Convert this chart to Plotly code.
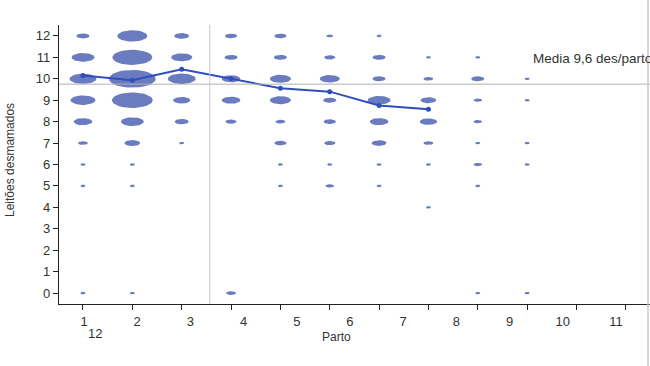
import numpy as np
import plotly.graph_objects as go

# ---- data ----
parto = [1, 2, 3, 4, 5, 6, 7, 8, 9, 10]
# counts of sows per (parto, weaned piglets)
counts = {
    1: {12: 7, 11: 21, 10: 29, 9: 25, 8: 14, 7: 4, 6: 1, 5: 1, 0: 1},
    2: {12: 36, 11: 64, 10: 88, 9: 67, 8: 21, 7: 10, 6: 1, 5: 1, 0: 1},
    3: {12: 9, 11: 18, 10: 31, 9: 12, 8: 8, 7: 1},
    4: {12: 6, 11: 7, 10: 14, 9: 14, 8: 5, 0: 4},
    5: {12: 6, 11: 7, 10: 18, 9: 18, 8: 4, 7: 6, 6: 1, 5: 1},
    6: {12: 2, 11: 5, 10: 16, 9: 7, 8: 6, 7: 5, 6: 1, 5: 3},
    7: {12: 1, 11: 7, 10: 7, 9: 21, 8: 14, 7: 9, 6: 1, 5: 1},
    8: {11: 1, 10: 4, 9: 10, 8: 12, 7: 4, 6: 1, 4: 1},
    9: {11: 1, 10: 7, 9: 3, 8: 3, 7: 1, 6: 3, 5: 1, 0: 1},
    10: {10: 1, 9: 1, 7: 1, 6: 1, 0: 1},
}
bubble_x, bubble_y, bubble_n = [], [], []
for p in parto:
    for k, n in counts[p].items():
        bubble_x.append(p)
        bubble_y.append(k)
        bubble_n.append(n)

mean_x = [1, 2, 3, 4, 5, 6, 7, 8]
mean_y = [10.15, 9.93, 10.44, 10.01, 9.56, 9.40, 8.75, 8.58]

x_tickvals = [1, 2, 3, 4, 5, 6, 7, 8, 9, 10, 11, 12]
x_labels = ["1", "2", "3", "4", "5", "6", "7", "8", "9", "10", "11", "12"]
y_ticks = list(range(0, 13))

media_value = 9.75
media_text = "Media 9,6 des/parto"
vline_x = 3.57

# ---- styling constants ----
XR = [0.514, 12.49]
YR = [-0.51, 12.51]
PLOT_W = 591
PLOT_H = 279
px_per_x = PLOT_W / (XR[1] - XR[0])
px_per_y = PLOT_H / (YR[1] - YR[0])

# ellipse polygons (size from counts)
ex, ey = [], []
t = np.linspace(0, 2 * np.pi, 40)
for x, y, n in zip(bubble_x, bubble_y, bubble_n):
    w = 5.0 * np.sqrt(n)
    h = max(w / 2.65, 2.6)
    rx = w / 2 / px_per_x
    ry = h / 2 / px_per_y
    ex += list(x + rx * np.cos(t)) + [None]
    ey += list(y + ry * np.sin(t)) + [None]

fig = go.Figure()
fig.add_trace(go.Scatter(
    x=ex, y=ey, mode="lines", fill="toself",
    fillcolor="rgba(98,116,188,0.95)", line=dict(width=0, color="rgba(98,116,188,0.95)"),
    hoverinfo="skip", showlegend=False))
fig.add_trace(go.Scatter(
    x=mean_x, y=mean_y, mode="lines+markers",
    line=dict(color="#2f4fbf", width=2),
    marker=dict(color="#2f4fbf", size=5),
    showlegend=False))
# dummy trace on xaxis2 so the label axis renders
fig.add_trace(go.Scatter(x=[None], y=[None], xaxis="x2", showlegend=False))

font = "Liberation Sans, Arial, sans-serif"
fig.update_layout(
    width=650, height=366,
    margin=dict(l=59, r=0, t=25, b=62),
    paper_bgcolor="white", plot_bgcolor="white",
    font=dict(family=font, size=13, color="#333"),
    xaxis=dict(range=XR, tickvals=x_tickvals, showticklabels=False,
               ticks="outside", ticklen=5, tickcolor="#222", tickwidth=1,
               showline=True, linecolor="#222", linewidth=1.2,
               showgrid=False, zeroline=False),
    xaxis2=dict(overlaying="x", side="bottom", range=[0.53, 11.64],
                tickvals=x_tickvals[:11], ticktext=x_labels[:11],
                ticks="outside", ticklen=5, tickcolor="rgba(0,0,0,0)",
                showline=False, showgrid=False, zeroline=False,
                tickfont=dict(size=13, color="#333")),
    yaxis=dict(range=YR, tickvals=y_ticks, ticks="outside", ticklen=5,
               tickcolor="#222", showline=True, linecolor="#222", linewidth=1.2,
               showgrid=False, zeroline=False, tickfont=dict(size=13, color="#333")),
    shapes=[
        dict(type="line", xref="paper", yref="y", x0=0, x1=1,
             y0=media_value, y1=media_value, line=dict(color="#b0b0b0", width=1), layer="above"),
        dict(type="line", xref="x", yref="paper", x0=vline_x, x1=vline_x,
             y0=0, y1=1, line=dict(color="#c8c8c8", width=1), layer="above"),
        dict(type="line", xref="paper", yref="paper", x0=0.9966, x1=0.9966,
             y0=-0.23, y1=1.1, line=dict(color="#c8c8c8", width=1.5)),
    ],
    annotations=[
        dict(text=media_text, xref="x", yref="y", x=10.08, y=10.97,
             xanchor="left", yanchor="middle", showarrow=False,
             font=dict(size=13.5, color="#333")),
        dict(text=x_labels[11], xref="x2", yref="paper", x=1.2, y=-0.1075,
             xanchor="center", yanchor="middle", showarrow=False,
             font=dict(size=13, color="#333")),
        dict(text="Parto", xref="paper", yref="paper", x=0.4687, y=-0.118,
             xanchor="center", yanchor="middle", showarrow=False,
             font=dict(size=12, color="#333")),
        dict(text="Leitões desmamados", xref="paper", yref="paper", x=-0.083, y=0.516,
             xanchor="center", yanchor="middle", textangle=-90, showarrow=False,
             font=dict(size=12, color="#333")),
    ],
)

fig.write_html("out.html", config={"displayModeBar": False},
               post_script="document.body.style.margin='0';document.body.style.overflow='hidden';")
